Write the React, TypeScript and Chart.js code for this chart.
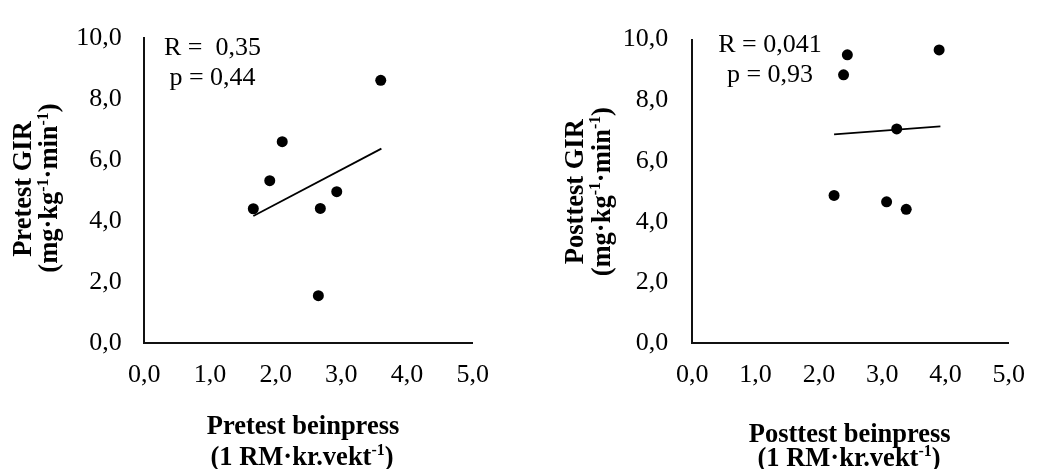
import React, { useEffect, useRef } from "react";
import { Chart, registerables } from "chart.js";

Chart.register(...registerables);

// ---------- data ----------
const xTickValues = [0, 1, 2, 3, 4, 5];
const yTickValues = [0, 2, 4, 6, 8, 10];

const preX = [1.66, 1.91, 2.1, 2.65, 2.68, 2.93, 3.6];
const preY = [4.41, 5.33, 6.61, 1.56, 4.42, 4.97, 8.62];
const preTrendX = [1.66, 3.61];
const preTrendY = [4.17, 6.38];
const preStats = ["R =  0,35", "p = 0,44"];

const postX = [2.24, 2.39, 2.45, 3.07, 3.23, 3.38, 3.9];
const postY = [4.87, 8.84, 9.5, 4.66, 7.06, 4.41, 9.66];
const postTrendX = [2.24, 3.92];
const postTrendY = [6.88, 7.14];
const postStats = ["R = 0,041", "p = 0,93"];

type Seg = { t: string; sup?: boolean };
const preYTitle: Seg[][] = [
  [{ t: "Pretest GIR" }],
  [{ t: "(mg·kg" }, { t: "-1", sup: true }, { t: "·min" }, { t: "-1", sup: true }, { t: ")" }],
];
const postYTitle: Seg[][] = [
  [{ t: "Posttest GIR" }],
  [{ t: "(mg·kg" }, { t: "-1", sup: true }, { t: "·min" }, { t: "-1", sup: true }, { t: ")" }],
];
const preXTitle: Seg[][] = [
  [{ t: "Pretest beinpress" }],
  [{ t: "(1 RM·kr.vekt" }, { t: "-1", sup: true }, { t: ")" }],
];
const postXTitle: Seg[][] = [
  [{ t: "Posttest beinpress" }],
  [{ t: "(1 RM·kr.vekt" }, { t: "-1", sup: true }, { t: ")" }],
];

const FAM = "'Liberation Serif', 'Times New Roman', serif";
const fmt = (v: number) => Number(v).toFixed(1).replace(".", ",");

function drawRich(
  ctx: CanvasRenderingContext2D,
  segs: Seg[],
  x: number,
  y: number,
  size: number,
  rotate: boolean
) {
  ctx.save();
  ctx.translate(x, y);
  if (rotate) ctx.rotate(-Math.PI / 2);
  const main = `bold ${size}px ${FAM}`;
  const sup = `bold ${size * 0.6}px ${FAM}`;
  let total = 0;
  for (const s of segs) {
    ctx.font = s.sup ? sup : main;
    total += ctx.measureText(s.t).width;
  }
  let cx = -total / 2;
  ctx.textAlign = "left";
  ctx.textBaseline = "alphabetic";
  ctx.fillStyle = "#000";
  for (const s of segs) {
    ctx.font = s.sup ? sup : main;
    ctx.fillText(s.t, cx, s.sup ? -size * 0.36 : 0);
    cx += ctx.measureText(s.t).width;
  }
  ctx.restore();
}

type Panel = {
  xs: number[];
  ys: number[];
  tx: number[];
  ty: number[];
  stats: string[];
  yTitle: Seg[][];
  xTitle: Seg[][];
  width: number;
  left: number;
  areaLeft: number;
  areaRight: number;
  areaTop: number;
  areaBottom: number;
  yPad: number;
  statsX: number;
  statsY: number[];
  yTitlePos: number[][];
  xTitlePos: number[][];
};

const H = 469;

const panels: Panel[] = [
  {
    xs: preX, ys: preY, tx: preTrendX, ty: preTrendY, stats: preStats,
    yTitle: preYTitle, xTitle: preXTitle,
    width: 520, left: 0,
    areaLeft: 144.3, areaRight: 472.7, areaTop: 28.3, areaBottom: 343.3,
    yPad: 22.6,
    statsX: 212.5, statsY: [55, 85],
    yTitlePos: [[30.7, 189], [57.3, 188]],
    xTitlePos: [[303, 434], [302, 465]],
  },
  {
    xs: postX, ys: postY, tx: postTrendX, ty: postTrendY, stats: postStats,
    yTitle: postYTitle, xTitle: postXTitle,
    width: 521, left: 520,
    areaLeft: 172.3, areaRight: 502.3, areaTop: 33.3, areaBottom: 343.3,
    yPad: 24,
    statsX: 250, statsY: [51.7, 81.7],
    yTitlePos: [[63, 191.7], [90, 191.7]],
    xTitlePos: [[329.7, 441.7], [329, 466]],
  },
];

function PanelChart({ p }: { p: Panel }) {
  const ref = useRef<HTMLCanvasElement>(null);
  useEffect(() => {
    if (!ref.current) return;
    const pts = p.xs.map((x, i) => ({ x, y: p.ys[i] }));
    const trend = p.tx.map((x, i) => ({ x, y: p.ty[i] }));
    const textPlugin = {
      id: "texts" + p.left,
      afterDraw(chart: any) {
        const ctx = chart.ctx as CanvasRenderingContext2D;
        ctx.save();
        ctx.fillStyle = "#000";
        ctx.font = `26px ${FAM}`;
        ctx.textAlign = "center";
        ctx.textBaseline = "alphabetic";
        p.stats.forEach((s, i) => ctx.fillText(s, p.statsX, p.statsY[i]));
        ctx.restore();
        p.yTitle.forEach((segs, i) =>
          drawRich(ctx, segs, p.yTitlePos[i][0], p.yTitlePos[i][1], 26.5, true)
        );
        p.xTitle.forEach((segs, i) =>
          drawRich(ctx, segs, p.xTitlePos[i][0], p.xTitlePos[i][1], 26.5, false)
        );
      },
    };
    const chart = new Chart(ref.current, {
      type: "scatter",
      data: {
        datasets: [
          {
            data: pts,
            pointRadius: 5.5,
            pointBackgroundColor: "#000",
            pointBorderWidth: 0,
            showLine: false,
          },
          {
            data: trend,
            showLine: true,
            pointRadius: 0,
            borderColor: "#000",
            borderWidth: 1.75,
            fill: false,
          },
        ],
      },
      options: {
        animation: false,
        responsive: false,
        events: [],
        layout: {
          padding: {
            left: 0,
            top: p.areaTop,
            right: p.width - p.areaRight,
            bottom: 0,
          },
        },
        plugins: { legend: { display: false }, tooltip: { enabled: false } },
        scales: {
          x: {
            type: "linear",
            min: xTickValues[0],
            max: xTickValues[xTickValues.length - 1],
            afterBuildTicks: (s: any) => {
              s.ticks = xTickValues.map((v) => ({ value: v }));
            },
            ticks: {
              padding: 16,
              color: "#000",
              maxRotation: 0,
              autoSkip: false,
              font: { family: FAM, size: 26 },
              callback: (v: any) => fmt(v),
            },
            grid: { display: false, drawTicks: false },
            border: { display: true, color: "#111", width: 2 },
            afterFit: (s: any) => {
              s.height = H - p.areaBottom;
            },
          },
          y: {
            type: "linear",
            min: yTickValues[0],
            max: yTickValues[yTickValues.length - 1],
            afterBuildTicks: (s: any) => {
              s.ticks = yTickValues.map((v) => ({ value: v }));
            },
            ticks: {
              padding: p.yPad,
              color: "#000",
              autoSkip: false,
              font: { family: FAM, size: 26 },
              callback: (v: any) => fmt(v),
            },
            grid: { display: false, drawTicks: false },
            border: { display: true, color: "#111", width: 2 },
            afterFit: (s: any) => {
              s.width = p.areaLeft;
            },
          },
        },
      } as any,
      plugins: [textPlugin],
    });
    return () => chart.destroy();
  }, [p]);
  return (
    <canvas
      ref={ref}
      width={p.width}
      height={H}
      style={{ position: "absolute", left: p.left, top: 0, width: p.width, height: H }}
    />
  );
}

export default function App() {
  return (
    <div
      style={{
        position: "fixed",
        left: 0,
        top: 0,
        width: 1041,
        height: H,
        background: "#fff",
        overflow: "hidden",
      }}
    >
      {panels.map((p) => (
        <PanelChart key={p.left} p={p} />
      ))}
    </div>
  );
}
